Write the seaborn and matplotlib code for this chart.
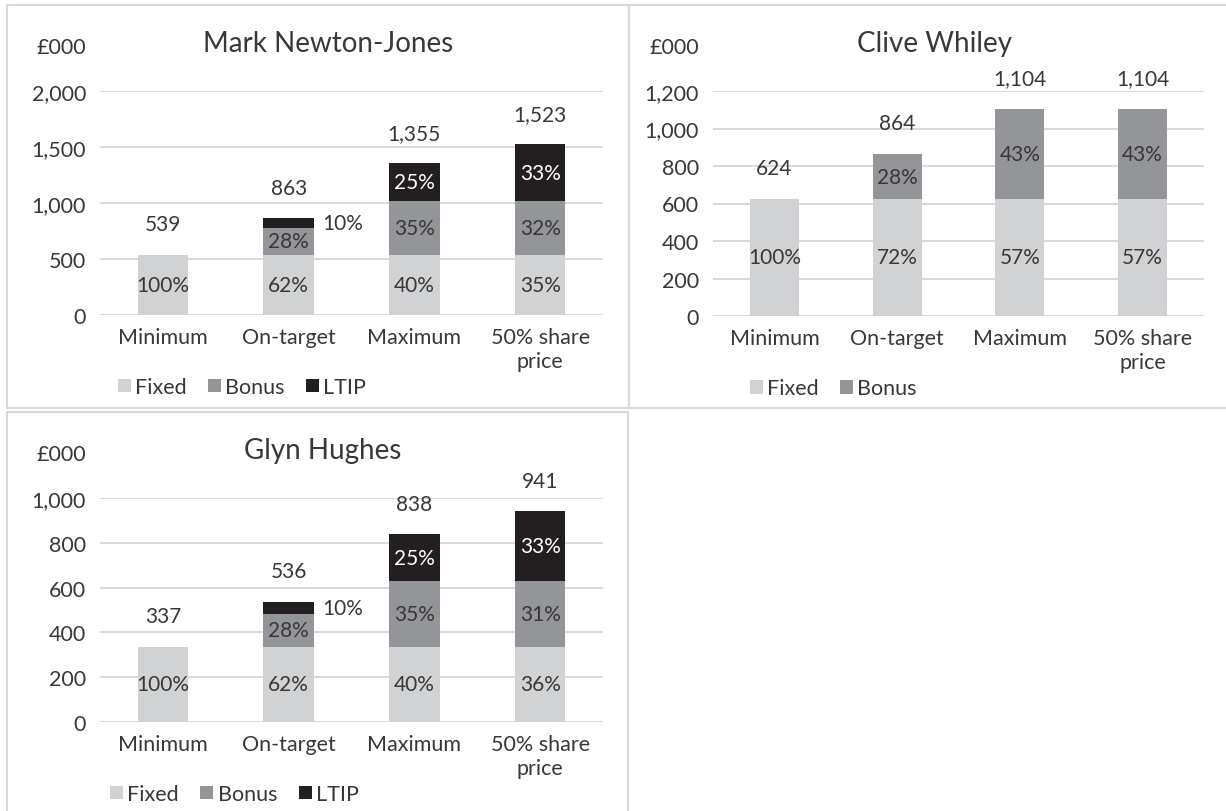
import matplotlib
matplotlib.use("Agg")
import matplotlib.pyplot as plt
import seaborn as sns
import pandas as pd
from matplotlib.patches import Rectangle

# categories shared by the three charts
categories = ["Minimum", "On-target", "Maximum", "50% share\nprice"]

# Mark Newton-Jones (£000)
mnj_fixed = [539, 539, 539, 539]
mnj_bonus = [0, 238, 476, 476]
mnj_ltip = [0, 86, 340, 508]
mnj_total = [539, 863, 1355, 1523]
mnj_pct_fixed = ["100%", "62%", "40%", "35%"]
mnj_pct_bonus = [None, "28%", "35%", "32%"]
mnj_pct_ltip = [None, "10%", "25%", "33%"]
mnj_ticks = [0, 500, 1000, 1500, 2000]

# Clive Whiley (£000)
cw_fixed = [624, 624, 624, 624]
cw_bonus = [0, 240, 480, 480]
cw_total = [624, 864, 1104, 1104]
cw_pct_fixed = ["100%", "72%", "57%", "57%"]
cw_pct_bonus = [None, "28%", "43%", "43%"]
cw_ticks = [0, 200, 400, 600, 800, 1000, 1200]

# Glyn Hughes (£000)
gh_fixed = [337, 337, 337, 337]
gh_bonus = [0, 145, 293, 293]
gh_ltip = [0, 54, 208, 311]
gh_total = [337, 536, 838, 941]
gh_pct_fixed = ["100%", "62%", "40%", "36%"]
gh_pct_bonus = [None, "28%", "35%", "31%"]
gh_pct_ltip = [None, "10%", "25%", "33%"]
gh_ticks = [0, 200, 400, 600, 800, 1000]

C_FIXED = "#d1d2d4"
C_BONUS = "#939598"
C_LTIP = "#231f20"
TXT = "#383838"
GRID = "#d9d9d9"

sns.set_style("white")
plt.rcParams["font.family"] = ["Lato", "DejaVu Sans"]
plt.rcParams["text.color"] = TXT

W, H = 1226, 812
fig = plt.figure(figsize=(W / 100, H / 100), dpi=100)

# panel frames (pixels: x0, y0 top, x1, y1 bottom)
for x0, y0, x1, y1 in [(7, 6, 629, 409), (629, 6, 1232, 409), (7, 413, 628, 818)]:
    fig.patches.append(Rectangle((x0 / W, 1 - y1 / H), (x1 - x0) / W, (y1 - y0) / H,
                                 transform=fig.transFigure, fill=False,
                                 edgecolor=GRID, linewidth=1.5))


def panel(rect, title, title_x, fixed, bonus, ltip, total, p_fixed, p_bonus, p_ltip,
          ticks, legend_x):
    ax = fig.add_axes(rect)
    segs = [("Fixed", fixed, C_FIXED, p_fixed, TXT), ("Bonus", bonus, C_BONUS, p_bonus, TXT)]
    if ltip is not None:
        segs.append(("LTIP", ltip, C_LTIP, p_ltip, "white"))

    # stacked bars: draw cumulative heights from the top down
    cum = []
    run = [0] * len(categories)
    for name, vals, col, pct, tc in segs:
        base = run[:]
        run = [r + v for r, v in zip(run, vals)]
        cum.append((name, base, vals, run[:], col, pct, tc))
    for name, base, vals, top, col, pct, tc in reversed(cum):
        df = pd.DataFrame({"cat": categories, "val": top})
        sns.barplot(data=df, x="cat", y="val", color=col, width=0.4, saturation=1,
                    errorbar=None, ax=ax, label=name, zorder=3,
                    linewidth=0, edgecolor="none")

    ymax = ticks[-1]
    for name, base, vals, top, col, pct, tc in cum:
        for i, (b, v, lab) in enumerate(zip(base, vals, pct)):
            if lab is None or v == 0:
                continue
            if v / ymax < 0.08:
                ax.text(i + 0.27, b + v / 2, lab, ha="left", va="center",
                        fontsize=15, color=TXT, zorder=4)
            else:
                ax.text(i, b + v / 2, lab, ha="center", va="center",
                        fontsize=15, color=tc, zorder=4)
    for i, t in enumerate(total):
        ax.annotate(f"{t:,}", (i, t), xytext=(0, 22), textcoords="offset points",
                    ha="center", va="center", fontsize=15, color=TXT)

    ax.set_ylim(0, ymax)
    ax.set_xlim(-0.5, len(categories) - 0.5)
    ax.set_yticks(ticks)
    ax.set_yticklabels([f"{t:,}" for t in ticks])
    ax.yaxis.grid(True, color=GRID, linewidth=1.4, zorder=0)
    ax.set_axisbelow(True)
    for s in ax.spines.values():
        s.set_visible(False)
    ax.tick_params(axis="y", length=0, pad=10, labelsize=15.5, labelcolor=TXT)
    ax.tick_params(axis="x", length=0, pad=9, labelsize=15.5, labelcolor=TXT)
    ax.set_xlabel("")
    ax.set_ylabel("")

    ax.text(title_x, 1.215, title, transform=ax.transAxes, ha="center", va="center",
            fontsize=20, color=TXT)
    ax.annotate("£000", (0, 1), xycoords="axes fraction", xytext=(-14, 44),
                textcoords="offset pixels", ha="right", va="center", fontsize=15.5,
                color=TXT)

    handles, labels = ax.get_legend_handles_labels()
    order = [labels.index(n) for n, *_ in segs]
    ax.legend([handles[k] for k in order], [labels[k] for k in order],
              loc="center left", bbox_to_anchor=(legend_x, -0.322), ncol=3,
              frameon=False, fontsize=15.5, handlelength=0.6, handleheight=0.6,
              handletextpad=0.2, columnspacing=1.0, borderpad=0, borderaxespad=0,
              labelcolor=TXT)
    return ax


panel([100 / W, 1 - 316 / H, 503 / W, 224 / H], "Mark Newton-Jones", 0.453,
      mnj_fixed, mnj_bonus, mnj_ltip, mnj_total,
      mnj_pct_fixed, mnj_pct_bonus, mnj_pct_ltip, mnj_ticks, 0.035)
panel([713 / W, 1 - 317 / H, 491 / W, 225 / H], "Clive Whiley", 0.452,
      cw_fixed, cw_bonus, None, cw_total,
      cw_pct_fixed, cw_pct_bonus, None, cw_ticks, 0.075)
panel([100 / W, 1 - 723 / H, 503 / W, 224 / H], "Glyn Hughes", 0.443,
      gh_fixed, gh_bonus, gh_ltip, gh_total,
      gh_pct_fixed, gh_pct_bonus, gh_pct_ltip, gh_ticks, 0.02)

fig.savefig("out.png", dpi=100)
